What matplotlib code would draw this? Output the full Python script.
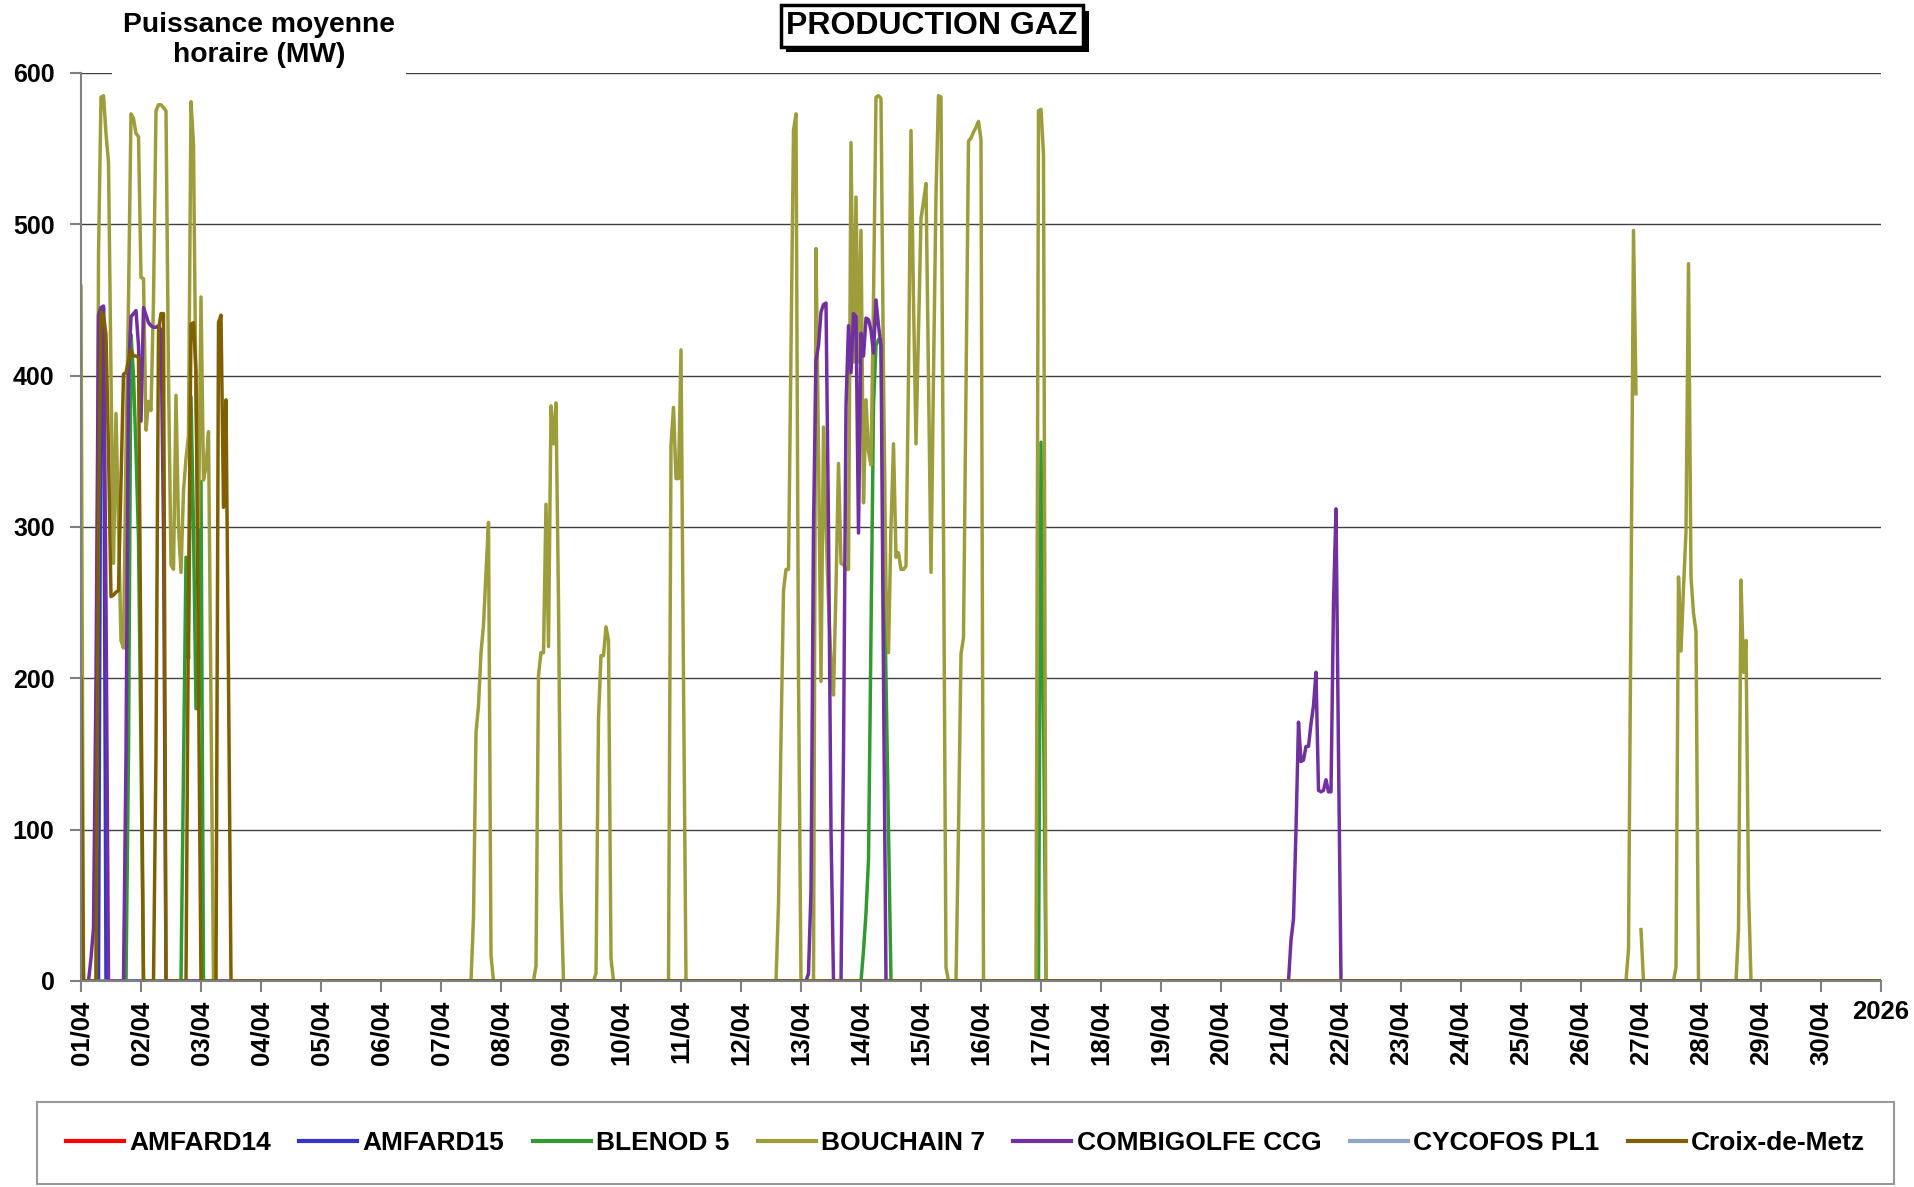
import numpy as np
import matplotlib.pyplot as plt
from matplotlib import patheffects

plt.rcParams['font.family'] = ['Liberation Sans', 'DejaVu Sans']
plt.rcParams['font.weight'] = 'bold'

n_hours = 720
day_labels = ['%02d/04' % d for d in range(1, 31)] + ['2026']
y_ticks = [0, 100, 200, 300, 400, 500, 600]

# hourly runs : (start hour, values) -- every other hour is 0 MW
amfard14_runs = []
amfard15_runs = [(7, [0, 430, 445, 0])]
blenod_runs = [
    (0, [109, 0]),
    (18, [0, 150, 427, 400, 350, 292, 150, 0]),
    (40, [0, 140, 280, 213, 386, 300, 180, 180, 330, 0]),
    (312, [0, 20, 45, 80, 230, 380, 420, 424, 424, 300, 200, 100, 0]),
    (383, [0, 356, 180, 0]),
]
bouchain_runs = [
    (0, [459, 0]),
    (6, [0, 480, 584, 585, 560, 541, 400, 276, 375, 300, 225, 220, 350, 450,
         573, 570, 560, 558, 465, 464, 364, 383, 377, 450, 575, 579, 579, 577,
         575, 400, 275, 272, 387, 300, 270, 324, 345, 360, 581, 553, 380, 300,
         452, 331, 340, 363, 180, 0]),
    (156, [0, 42, 164, 182, 217, 235, 270, 303, 17, 0]),
    (181, [0, 10, 202, 217, 217, 315, 221, 380, 355, 382, 250, 60, 0]),
    (205, [0, 5, 174, 215, 215, 234, 225, 15, 0]),
    (235, [0, 354, 379, 332, 332, 417, 200, 0]),
    (278, [0, 51, 160, 258, 272, 272, 420, 562, 573, 200, 0]),
    (293, [0, 484, 350, 198, 366, 300, 250, 210, 189, 260,
           342, 276, 275, 272, 272, 554, 409, 518, 409, 496,
           316, 384, 350, 341, 450, 584, 585, 583, 400, 260,
           217, 300, 355, 280, 283, 272, 272, 274, 400, 562,
           450, 355, 430, 504, 515, 527, 400, 270, 400, 520,
           585, 584, 300, 9, 0]),
    (350, [0, 100, 216, 227, 390, 555, 557, 561, 564, 568, 556, 0]),
    (382, [0, 575, 576, 546, 0]),
    (617, [0, 0, 21, 250, 496, 388, np.nan, 34, 0]),
    (637, [0, 9, 267, 218, 260, 297, 474, 267, 243, 231, 0]),
    (662, [0, 34, 265, 204, 225, 61, 0]),
]
combigolfe_runs = [
    (3, [0, 15, 35, 200, 440, 445, 446, 250, 0]),
    (17, [0, 150, 400, 439, 441, 443, 420, 370, 445, 440, 435, 433, 432, 432,
          433, 430, 300, 0]),
    (290, [0, 5, 60, 300, 410, 420, 442, 447, 448, 300, 100, 0]),
    (304, [0, 150, 380, 433, 402, 441, 439, 296, 428, 413, 438, 437, 430, 415,
           450, 433, 420, 200, 0]),
    (483, [0, 27, 41, 100, 171, 145, 146, 155, 155, 170, 182, 204, 126, 125,
           126, 133, 125, 125, 250, 312, 150, 0]),
]
cycofos_runs = []
croix_runs = [
    (0, [200, 0]),
    (6, [0, 300, 442, 440, 427, 350, 254, 255, 257, 258, 330, 401, 402, 410,
         417, 413, 413, 412, 200, 0]),
    (29, [0, 150, 430, 441, 441, 0]),
    (42, [0, 250, 434, 435, 403, 200, 0]),
    (54, [0, 435, 440, 313, 384, 200, 0]),
]

names = ['AMFARD14', 'AMFARD15', 'BLENOD 5', 'BOUCHAIN 7',
         'COMBIGOLFE CCG', 'CYCOFOS PL1', 'Croix-de-Metz']
all_runs = [amfard14_runs, amfard15_runs, blenod_runs, bouchain_runs,
            combigolfe_runs, cycofos_runs, croix_runs]
colors = ['#FF0000', '#3535CC', '#339933', '#9D9D3C',
          '#7030A0', '#8EA5C8', '#7F6000']


def build(runs):
    y = np.zeros(n_hours + 1)
    for start, vals in runs:
        y[start:start + len(vals)] = vals
    return y


hours = np.arange(n_hours + 1)

W, H = 1914, 1187
fig = plt.figure(figsize=(W / 100, H / 100), dpi=100)
ax = fig.add_axes([81 / W, 1 - 981 / H, 1800 / W, 908 / H])

lines = []
for name, runs, c in zip(names, all_runs, colors):
    ln, = ax.plot(hours, build(runs), color=c, lw=2.5, label=name)
    lines.append(ln)

ax.set_xlim(0, n_hours)
ax.set_ylim(0, 600)
ax.set_yticks(y_ticks)
ax.set_xticks(np.arange(0, n_hours + 1, 24))
ax.set_xticklabels(day_labels, rotation=90)
ax.get_xticklabels()[-1].set_rotation(0)

ax.yaxis.grid(True, color='#404040', lw=1.0)
ax.set_axisbelow(True)
for s in ['top', 'right']:
    ax.spines[s].set_visible(False)
for s in ['left', 'bottom']:
    ax.spines[s].set_color('#808080')
    ax.spines[s].set_linewidth(1.5)
ax.tick_params(axis='y', length=8, width=1.5, color='#808080', pad=11, labelsize=18)
ax.tick_params(axis='x', length=8, width=1.5, color='#808080', pad=6, labelsize=18.5)

fig.text(259 / W, 1 - 40 / H, 'Puissance moyenne\nhoraire (MW)', ha='center',
         va='center', fontsize=20.3,
         bbox=dict(fc='white', ec='none', pad=8))

title = fig.text(932 / W, 1 - 26 / H, 'PRODUCTION GAZ', ha='center', va='center',
                 fontsize=23, zorder=4,
                 bbox=dict(boxstyle='square,pad=0.18', fc='white', ec='black', lw=2.5))
title.get_bbox_patch().set_path_effects([
    patheffects.SimplePatchShadow(offset=(4, -4), shadow_rgbFace='black', alpha=1.0),
    patheffects.Normal()])

leg = fig.legend(lines, names, loc='lower left',
                 bbox_to_anchor=(37 / W, 3 / H, 1857 / W, 82 / H),
                 mode='expand', ncol=7, fontsize=19, frameon=True,
                 fancybox=False, edgecolor='#808080', borderpad=1.1,
                 handlelength=2.2, handletextpad=0.2, borderaxespad=0)
leg.get_frame().set_linewidth(1.5)
for h in leg.legend_handles:
    h.set_linewidth(3)

fig.savefig('out.png', dpi=100)
